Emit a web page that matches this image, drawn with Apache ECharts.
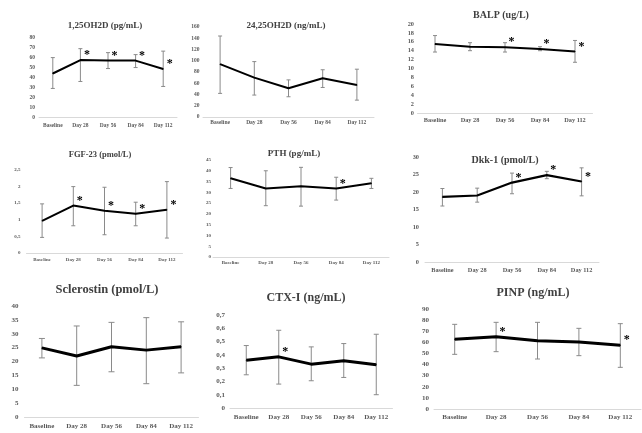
<!DOCTYPE html>
<html>
<head>
<meta charset="utf-8">
<script src="https://cdn.jsdelivr.net/npm/echarts@6/dist/echarts.min.js"></script>
<style>
html,body{margin:0;padding:0;background:#fff;}
#chart{width:642px;height:433px;}
</style>
</head>
<body>
<div id="chart"></div>
<script>
// ---- data ----
const categories = ['Baseline', 'Day 28', 'Day 56', 'Day 84', 'Day 112'];

const titles = ['1,25OH2D (pg/mL)', '24,25OH2D (ng/mL)', 'BALP (ug/L)',
  'FGF-23 (pmol/L)', 'PTH (pg/mL)', 'Dkk-1 (pmol/L)',
  'Sclerostin (pmol/L)', 'CTX-I (ng/mL)', 'PINP (ng/mL)'];

const d125Mean = [44, 57.5, 57, 57, 48.5];
const d125Low  = [29, 36, 49, 50, 31];
const d125High = [60, 69, 65, 63, 66.5];
const d125Sig  = [0, 1, 1, 1, 1];

const d2425Mean = [94, 70, 51, 69, 57];
const d2425Low  = [42, 39, 36, 52.5, 30];
const d2425High = [144, 98.5, 66, 84, 85];
const d2425Sig  = [0, 0, 0, 0, 0];

const balpMean = [15.5, 14.9, 14.8, 14.4, 13.8];
const balpLow  = [13.7, 14, 13.7, 14, 11.4];
const balpHigh = [17.4, 15.8, 15.8, 14.9, 16.3];
const balpSig  = [0, 0, 1, 1, 1];

const fgfMean = [0.97, 1.43, 1.27, 1.18, 1.3];
const fgfLow  = [0.47, 0.82, 0.55, 0.82, 0.45];
const fgfHigh = [1.48, 2.0, 1.98, 1.53, 2.15];
const fgfSig  = [0, 1, 1, 1, 1];

const pthMean = [36.5, 31.8, 32.8, 31.8, 34.2];
const pthLow  = [31.8, 23.8, 23.6, 26.4, 31.8];
const pthHigh = [41.5, 40, 41.6, 37, 36.5];
const pthSig  = [0, 0, 0, 1, 0];

const dkkMean = [18.6, 19, 22.7, 24.8, 23];
const dkkLow  = [16, 17.1, 19.5, 23.8, 18.9];
const dkkHigh = [21, 21.1, 25.4, 25.9, 26.9];
const dkkSig  = [0, 0, 1, 1, 1];

const sostMean = [24.9, 22, 25.3, 24.1, 25.3];
const sostLow  = [21.3, 11.4, 16.3, 12, 15.9];
const sostHigh = [28.3, 32.8, 34.1, 35.8, 34.3];
const sostSig  = [0, 0, 0, 0, 0];

const ctxMean = [0.36, 0.385, 0.33, 0.355, 0.325];
const ctxLow  = [0.25, 0.18, 0.205, 0.23, 0.10];
const ctxHigh = [0.47, 0.585, 0.46, 0.485, 0.555];
const ctxSig  = [0, 1, 0, 0, 0];

const pinpMean = [62.7, 65.1, 61.5, 60.3, 57.3];
const pinpLow  = [49.2, 51.6, 45, 48, 37.5];
const pinpHigh = [76.2, 78, 78, 72.6, 76.8];
const pinpSig  = [0, 1, 0, 0, 1];

const yMax      = [80, 160, 20, 2.5, 45, 30, 40, 0.7, 90];
const yInterval = [10, 20, 2, 0.5, 5, 5, 5, 0.1, 10];

const means = [d125Mean, d2425Mean, balpMean, fgfMean, pthMean, dkkMean, sostMean, ctxMean, pinpMean];
const lows  = [d125Low, d2425Low, balpLow, fgfLow, pthLow, dkkLow, sostLow, ctxLow, pinpLow];
const highs = [d125High, d2425High, balpHigh, fgfHigh, pthHigh, dkkHigh, sostHigh, ctxHigh, pinpHigh];
const sigs  = [d125Sig, d2425Sig, balpSig, fgfSig, pthSig, dkkSig, sostSig, ctxSig, pinpSig];

// ---- layout / style (per panel) ----
const layout = [
  {l: 39,    t: 37.7, w: 138,   h: 79.6, tx: 105, ty: 26,  tfs: 9,    lfs: 5.5, ym: 4,   xm: 5,   lw: 2,   cap: 4},
  {l: 203,   t: 27,   w: 171,   h: 90,   tx: 286, ty: 26,  tfs: 9,    lfs: 5.5, ym: 3.5, xm: 3,   lw: 2,   cap: 4},
  {l: 417.5, t: 24,   w: 175,   h: 89,   tx: 501, ty: 15,  tfs: 10,   lfs: 6.3, ym: 3.5, xm: 4,   lw: 2,   cap: 4},
  {l: 26.5,  t: 170,  w: 156,   h: 83,   tx: 100, ty: 155, tfs: 8.5,  lfs: 5,   ym: 6,   xm: 4.5, lw: 2,   cap: 4},
  {l: 213,   t: 160,  w: 176,   h: 97,   tx: 294, ty: 154, tfs: 9,    lfs: 5,   ym: 2,   xm: 3.5, lw: 2,   cap: 4},
  {l: 425,   t: 157,  w: 174,   h: 105,  tx: 505, ty: 160, tfs: 10,   lfs: 6.3, ym: 6,   xm: 5,   lw: 2.2, cap: 4},
  {l: 24.5,  t: 306,  w: 174,   h: 111,  tx: 107, ty: 290, tfs: 12.5, lfs: 7,   ym: 6,   xm: 5.5, lw: 3,   cap: 6},
  {l: 230,   t: 315,  w: 162.5, h: 93,   tx: 306, ty: 298, tfs: 12,   lfs: 7,   ym: 5,   xm: 5.5, lw: 3,   cap: 5},
  {l: 434,   t: 309,  w: 207,   h: 100,  tx: 533, ty: 293, tfs: 12,   lfs: 7,   ym: 5,   xm: 5,   lw: 3,   cap: 5}
];

const FONT = '"Liberation Serif", "Times New Roman", serif';
const fmtNum = v => (Math.round(v * 100) / 100).toString().replace('.', ',');

const grid = [], xAxis = [], yAxis = [], series = [], graphic = [];
for (let i = 0; i < 9; i++) {
  const L = layout[i];
  grid.push({left: L.l, top: L.t, width: L.w, height: L.h});
  xAxis.push({
    type: 'category', gridIndex: i, data: categories, boundaryGap: true,
    axisLine: {show: true, lineStyle: {color: '#d9d9d9', width: 1}},
    axisTick: {show: false},
    axisLabel: {interval: 0, margin: L.xm, fontFamily: FONT, fontWeight: 'bold', fontSize: L.lfs, color: '#595959'}
  });
  yAxis.push({
    type: 'value', gridIndex: i, min: 0, max: yMax[i], interval: yInterval[i],
    axisLine: {show: false}, axisTick: {show: false}, splitLine: {show: false},
    axisLabel: {margin: L.ym, fontFamily: FONT, fontWeight: 'bold', fontSize: L.lfs, color: '#595959', formatter: fmtNum}
  });
  const errData = categories.map((c, k) => [k, lows[i][k], highs[i][k]]);
  const cap = L.cap;
  series.push({
    type: 'custom', xAxisIndex: i, yAxisIndex: i, data: errData, z: 2,
    renderItem: function (params, api) {
      const x = api.value(0);
      const p1 = api.coord([x, api.value(1)]);
      const p2 = api.coord([x, api.value(2)]);
      const st = {stroke: '#8a8a8a', lineWidth: 1};
      return {type: 'group', children: [
        {type: 'line', shape: {x1: p1[0], y1: p1[1], x2: p2[0], y2: p2[1]}, style: st},
        {type: 'line', shape: {x1: p1[0] - cap / 2, y1: p1[1], x2: p1[0] + cap / 2, y2: p1[1]}, style: st},
        {type: 'line', shape: {x1: p2[0] - cap / 2, y1: p2[1], x2: p2[0] + cap / 2, y2: p2[1]}, style: st}
      ]};
    }
  });
  const sg = sigs[i];
  series.push({
    type: 'line', xAxisIndex: i, yAxisIndex: i, data: means[i], z: 3,
    symbol: 'circle', symbolSize: 1, showSymbol: true,
    itemStyle: {color: '#000', opacity: 1},
    lineStyle: {color: '#000', width: L.lw},
    label: {
      show: true, position: 'right', distance: 2,
      fontFamily: FONT, fontWeight: 'bold', fontSize: 12, color: '#000',
      formatter: p => sg[p.dataIndex] ? '*' : ''
    },
    labelLayout: {hideOverlap: false, dx: 1, dy: -5}
  });
  graphic.push({
    type: 'text', x: L.tx, y: L.ty,
    style: {text: titles[i], fill: '#404040', font: 'bold ' + L.tfs + 'px ' + FONT, textAlign: 'center', textVerticalAlign: 'middle'}
  });
}

const chart = echarts.init(document.getElementById('chart'), null, {renderer: 'canvas'});
chart.setOption({
  backgroundColor: '#ffffff',
  animation: false,
  grid, xAxis, yAxis, series, graphic
});
</script>
</body>
</html>
